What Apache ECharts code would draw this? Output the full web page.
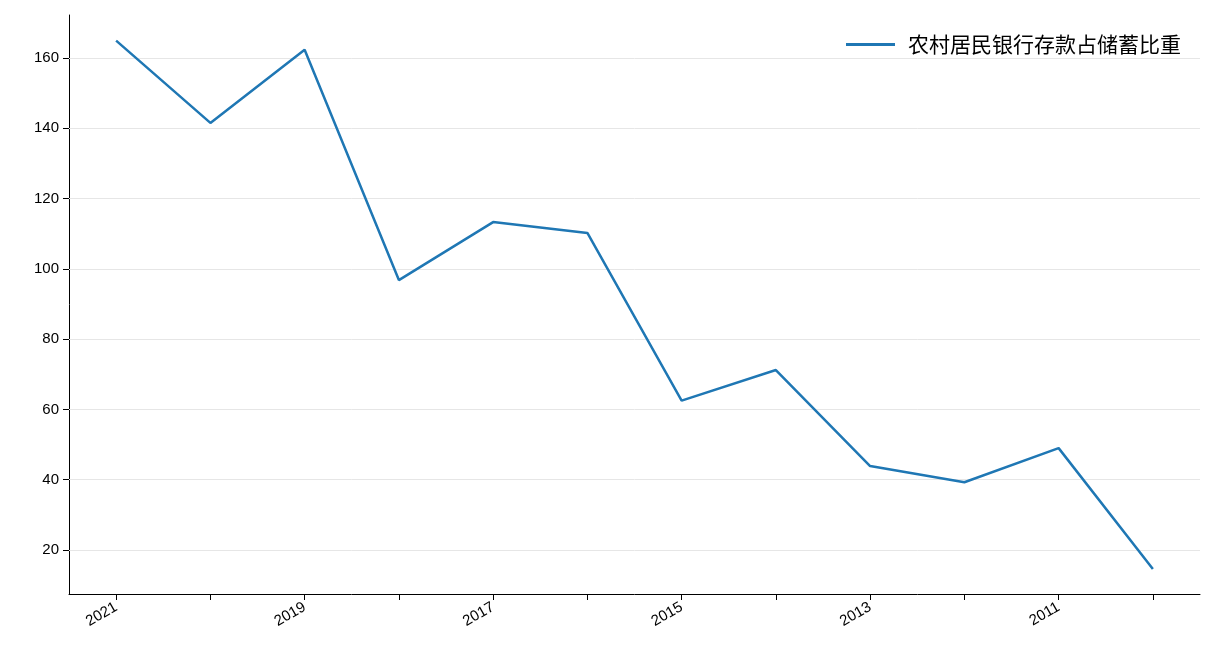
<!DOCTYPE html>
<html><head><meta charset="utf-8">
<script src="https://cdn.jsdelivr.net/npm/echarts@6/dist/echarts.min.js"></script>
<style>html,body{margin:0;padding:0;background:#fff}#c{width:1216px;height:672px}</style>
</head><body><div id="c"></div>
<script>
const years = ['2021','2020','2019','2018','2017','2016','2015','2014','2013','2012','2011','2010'];
const values = [164.9,141.5,162.3,96.8,113.3,110.2,62.5,71.2,43.9,39.3,49.0,14.6];
const yTicks = [20,40,60,80,100,120,140,160];
const seriesName = '农村居民银行存款占储蓄比重';
const font = 'Liberation Sans, "Noto Sans CJK SC", sans-serif';
const chart = echarts.init(document.getElementById('c'));
chart.setOption({
  animation:false,
  textStyle:{fontFamily:font},
  grid:{left:69,right:16,top:15,bottom:78},
  legend:{top:29,right:30,itemWidth:49,itemHeight:3,itemGap:10,icon:'rect',
    textStyle:{fontSize:21,color:'#000',fontFamily:'"Noto Sans CJK SC", sans-serif',padding:[0,0,0,8]},data:[seriesName]},
  xAxis:{type:'category',data:years,boundaryGap:true,
    axisLine:{lineStyle:{color:'#000'}},
    axisTick:{show:true,interval:0,alignWithLabel:true,length:6,lineStyle:{color:'#000'}},
    axisLabel:{interval:1,rotate:30,fontSize:15,color:'#000',margin:12}},
  yAxis:{type:'value',min:7.5,max:172.2,
    axisLine:{show:true,lineStyle:{color:'#000'}},
    axisTick:{show:true,length:6,customValues:yTicks,lineStyle:{color:'#000'}},
    axisLabel:{customValues:yTicks,fontSize:15,color:'#000',margin:10},
    splitLine:{show:false}},
  series:[
   {name:'grid',type:'line',data:[],z:1,
    markLine:{silent:true,symbol:'none',label:{show:false},z:1,
      lineStyle:{color:'#e6e6e6',type:'solid',width:1},
      data:yTicks.map(v=>({yAxis:v}))}},
   {name:seriesName,type:'line',data:values,symbol:'none',z:5,
    lineStyle:{color:'#1f77b4',width:2.5},itemStyle:{color:'#1f77b4'}}]
});
</script></body></html>
